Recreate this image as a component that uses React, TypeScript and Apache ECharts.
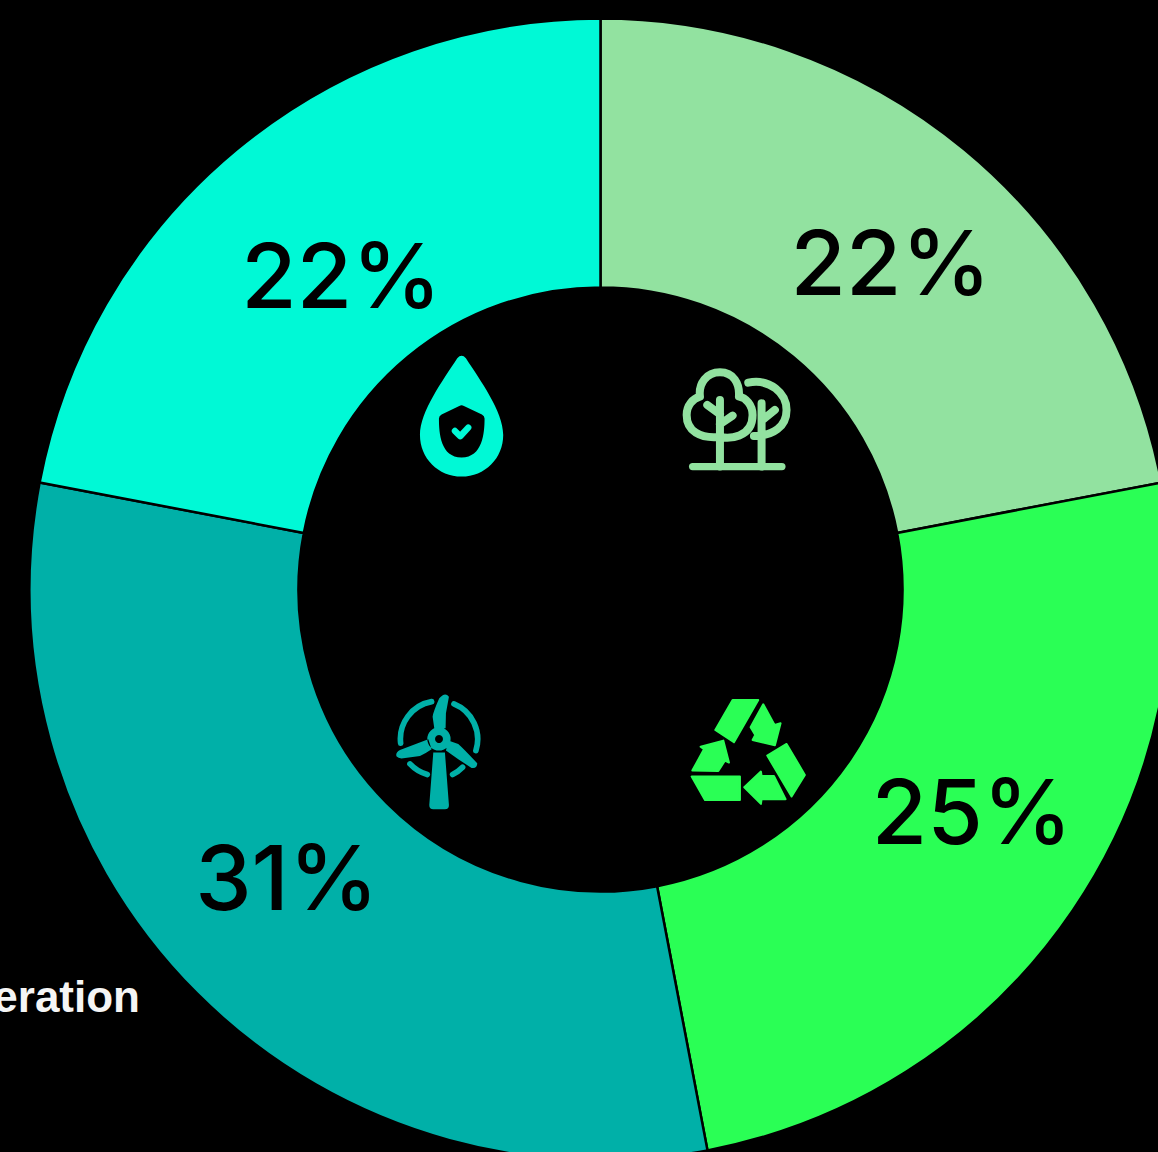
import React, { useEffect, useRef } from "react";
import * as echarts from "echarts";

const categories = ["Forestry", "Recycling", "Wind Energy", "Water Protection"];
const shares = [22, 25, 31, 22];
const sliceColors = ["#92E2A0", "#2AFF55", "#00B0A8", "#00F9D6"];
const labelNudges = [
  [10, 12],
  [8, -25],
  [-3, -23],
  [21, 25],
];
const captionText = "Generation";

const ICONS: Record<string, string> = {
  dropBody:
    "M232 55 Q245 40 258 55 C 300 120 370 215 370 285 C 370 355 315 410 245 410 C 175 410 120 355 120 285 C 120 215 190 120 232 55 Z",
  dropShield:
    "M238 198 Q245 194 252 198 L 306 224 Q 314 228 314 236 C 314 280 308 353 245 353 C 182 353 177 280 177 236 Q 177 228 185 224 Z",
  dropCheck: "M225 273 L241 289 L265 263",
  treeLines:
    "M150 246 C 175 252 248 250 248 180 C 248 150 228 128 207 125 C 210 85 190 52 150 52 C 110 52 85 85 90 125 C 70 130 50 150 50 180 C 50 228 90 252 150 246 M150 135 L150 335 M112 150 L150 178 M188 182 L150 208 M275 145 L275 335 M315 165 L278 195 M235 83 C 300 70 350 115 350 165 C 350 215 310 243 252 243",
  treeGround: "M68 335 L336 335",
  windBody:
    "M212 177 A35 35 0 1 1 142 177 A35 35 0 1 1 212 177 Z M163 145 L158 110 Q160 95 178 55 Q195 35 207 50 L198 100 L197 145 Z M145 178 L60 210 Q45 218 50 230 Q56 237 70 235 L120 228 Q135 222 155 208 Z M205 182 L235 192 Q250 205 292 250 Q292 267 275 264 L235 238 L198 212 Z M160 218 L195 218 L207 375 Q207 388 195 388 L160 388 Q148 388 148 375 Z",
  windRing:
    "M155 65 A114 114 0 0 0 62 190 M222 72 A114 114 0 0 1 288 212 M90 252 A114 114 0 0 0 142 284 M218 284 A114 114 0 0 0 248 262",
  recycle:
    "M158 30 L235 30 L162 157 L106 120 Z M250 43 L284 105 L302 100 L285 166 L218 150 L226 135 L212 112 Z M320 162 L375 255 L335 320 L262 197 Z M317 328 L245 328 L243 342 L193 292 L243 245 L245 258 L282 258 Z M35 260 L180 260 L180 330 L75 330 Z M37 242 L72 178 L62 170 L130 152 L147 218 L135 212 L115 243 Z",
};

Object.entries(ICONS).forEach(([name, d]) => {
  echarts.graphic.registerShape(name, echarts.graphic.extendPath(d as any, {}));
});

const third = 1 / 3;

function icon(type: string, x: number, y: number, style: Record<string, unknown>) {
  return { type, x, y, scaleX: third, scaleY: third, style };
}

function strokeStyle(color: string, width: number) {
  return { fill: "none", stroke: color, lineWidth: width, lineCap: "round", lineJoin: "round" };
}

export default function App() {
  const ref = useRef<HTMLDivElement>(null);

  useEffect(() => {
    document.body.style.margin = "0";
    document.body.style.background = "#000";
    const chart = echarts.init(ref.current!, undefined, { renderer: "svg" });
    chart.setOption({
      animation: false,
      backgroundColor: "#000",
      series: [
        {
          type: "pie",
          center: [600.5, 589.5],
          radius: [302, 571],
          startAngle: 90,
          clockwise: true,
          silent: true,
          itemStyle: { borderColor: "#000", borderWidth: 2.5 },
          label: {
            show: true,
            position: "inside",
            color: "#000",
            fontFamily: "Inter",
            fontSize: 90,
            fontWeight: 500,
            formatter: "{c}%",
          },
          labelLine: { show: false },
          labelLayout: (params: { dataIndex: number }) => ({
            dx: labelNudges[params.dataIndex][0],
            dy: labelNudges[params.dataIndex][1],
          }),
          data: categories.map((name, i) => ({
            name,
            value: shares[i],
            itemStyle: { color: sliceColors[i] },
          })),
        },
      ],
      graphic: {
        elements: [
          icon("dropBody", 380, 340, { fill: sliceColors[3] }),
          icon("dropShield", 380, 340, { fill: "#000" }),
          icon("dropCheck", 380, 340, strokeStyle(sliceColors[3], 19)),
          icon("treeLines", 670, 355, strokeStyle(sliceColors[0], 24)),
          icon("treeGround", 670, 355, strokeStyle(sliceColors[0], 22)),
          icon("windRing", 380, 680, strokeStyle(sliceColors[2], 17)),
          icon("windBody", 380, 680, { fill: sliceColors[2] }),
          { type: "circle", shape: { cx: 439, cy: 739, r: 4 }, style: { fill: "#000" } },
          icon("recycle", 680, 690, {
            fill: sliceColors[1],
            stroke: sliceColors[1],
            lineWidth: 6,
            lineJoin: "round",
          }),
          {
            type: "text",
            x: 140,
            y: 996,
            style: {
              text: captionText,
              fill: "#F5F5F5",
              font: "bold 44px 'Liberation Sans'",
              textAlign: "right",
              textVerticalAlign: "middle",
            },
          },
        ],
      },
    });
    return () => chart.dispose();
  }, []);

  return (
    <div
      ref={ref}
      style={{ position: "absolute", left: 0, top: 0, width: 1158, height: 1152, overflow: "hidden" }}
    />
  );
}
